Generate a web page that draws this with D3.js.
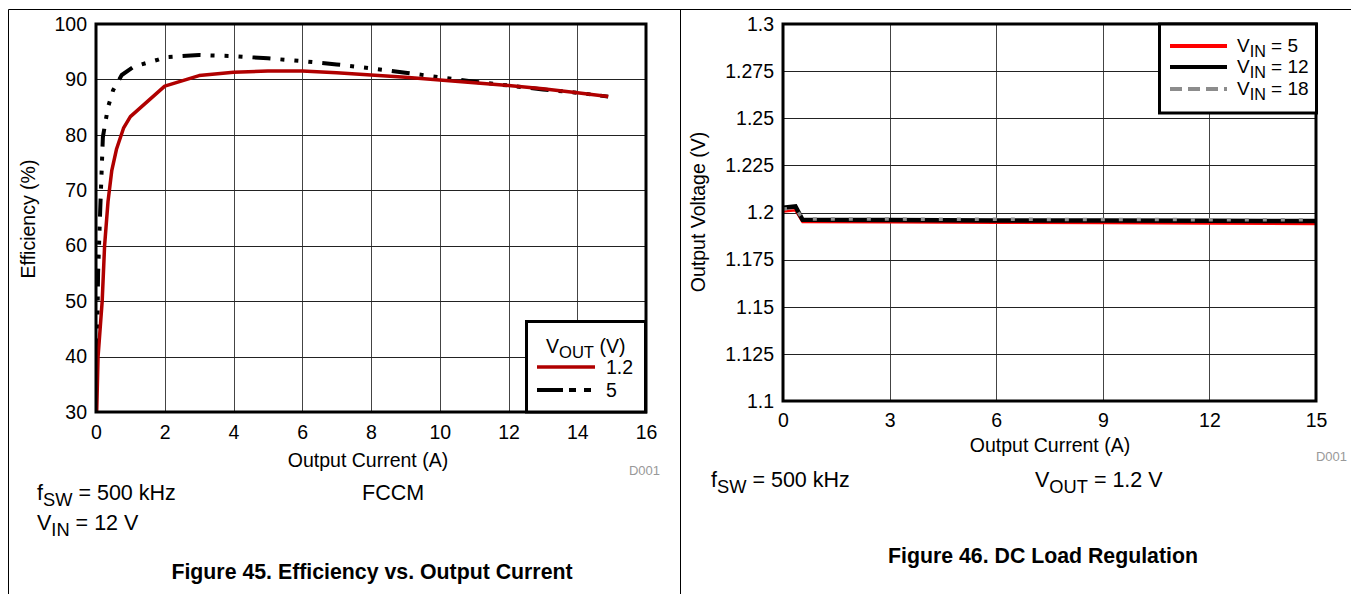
<!DOCTYPE html>
<html><head><meta charset="utf-8">
<script src="https://cdn.jsdelivr.net/npm/d3@7"></script>
<style>
html,body{margin:0;padding:0;background:#fff;}
svg{display:block;font-family:"Liberation Sans",Arial,sans-serif;}
</style></head>
<body>
<svg id="c" width="1351" height="594"></svg>
<script>
// ---------- DATA ----------
// Figure 45: efficiency vs output current
const effXTicks = [0, 2, 4, 6, 8, 10, 12, 14, 16];
const effYTicks = [30, 40, 50, 60, 70, 80, 90, 100];
const eff12Current = [0.02, 0.06, 0.18, 0.25, 0.35, 0.46, 0.6, 0.8, 1.0, 2, 3, 4, 5, 6, 7, 8, 9, 10, 11, 12, 13, 14, 14.9];
const eff12Value   = [30, 40, 50, 60, 68, 73.6, 77.5, 81.2, 83.3, 88.8, 90.7, 91.3, 91.5, 91.5, 91.2, 90.8, 90.4, 89.9, 89.4, 88.9, 88.3, 87.6, 86.9];
const eff5Current = [0.03, 0.06, 0.12, 0.2, 0.35, 0.5, 0.75, 1.1, 1.77, 2, 3, 4, 5, 6, 7, 8, 9, 10, 11, 12, 13, 14, 14.9];
const eff5Value   = [40, 55, 66, 79.6, 85, 88.1, 90.8, 92.3, 93.5, 94.0, 94.4, 94.2, 93.8, 93.3, 92.7, 92.0, 91.2, 90.4, 89.6, 88.9, 88.2, 87.6, 86.9];
const effSeriesNames = ["1.2", "5"];

// Figure 46: DC load regulation
const regXTicks = [0, 3, 6, 9, 12, 15];
const regYTicks = [1.1, 1.125, 1.15, 1.175, 1.2, 1.225, 1.25, 1.275, 1.3];
const regYTickLabels = ["1.1", "1.125", "1.15", "1.175", "1.2", "1.225", "1.25", "1.275", "1.3"];
const regCurrent = [0, 0.35, 0.55, 3, 6, 9, 12, 15];
const regVin5  = [1.2005, 1.2012, 1.1950, 1.1948, 1.1946, 1.1944, 1.1942, 1.1939];
const regVin12 = [1.2025, 1.2032, 1.1961, 1.1960, 1.1958, 1.1957, 1.1956, 1.1955];
const regVin18 = [1.2018, 1.2025, 1.1966, 1.1965, 1.1964, 1.1963, 1.1962, 1.1961];
const regSeriesNames = ["5", "12", "18"];

// ---------- DRAW ----------
const svg = d3.select("#c");
const FS = 19.5;   // chart text
const AFS = 21.5;  // annotation text
const CFS = 21.3;  // captions

// panel borders
svg.append("line").attr("x1", 8.5).attr("x2", 8.5).attr("y1", 9.5).attr("y2", 594).attr("stroke", "#000");
svg.append("line").attr("x1", 8.5).attr("x2", 1351).attr("y1", 9.5).attr("y2", 9.5).attr("stroke", "#000");
svg.append("line").attr("x1", 680.5).attr("x2", 680.5).attr("y1", 9.5).attr("y2", 594).attr("stroke", "#000");

function subText(g, x, y, parts, size, anchor) {
  const t = g.append("text").attr("x", x).attr("y", y).attr("font-size", size).attr("text-anchor", anchor || "start");
  parts.forEach(p => {
    const ts = t.append("tspan").text(p.t);
    if (p.sub) ts.attr("dy", size * 0.27).attr("font-size", size * 0.85);
    else if (p.after) ts.attr("dy", -size * 0.27);
  });
  return t;
}

function drawAxesFrame(g, x, y, xTicks, yTicks, yLabels, xTickY) {
  const [x0, x1] = x.range();
  const [yb, yt] = y.range();
  g.append("g").selectAll("line").data(xTicks.slice(1, -1)).join("line")
    .attr("x1", d => Math.round(x(d)) + 0.5).attr("x2", d => Math.round(x(d)) + 0.5)
    .attr("y1", yt).attr("y2", yb).attr("stroke", "#444").attr("stroke-width", 1);
  g.append("g").selectAll("line").data(yTicks.slice(1, -1)).join("line")
    .attr("y1", d => Math.round(y(d)) + 0.5).attr("y2", d => Math.round(y(d)) + 0.5)
    .attr("x1", x0).attr("x2", x1).attr("stroke", "#222").attr("stroke-width", 1);
  const xa = g.append("g").attr("transform", `translate(0,${yb})`)
    .call(d3.axisBottom(x).tickValues(xTicks).tickSize(0).tickPadding(xTickY));
  const ya = g.append("g").attr("transform", `translate(${x0},0)`)
    .call(d3.axisLeft(y).tickValues(yTicks).tickSize(0).tickPadding(9)
      .tickFormat((d, i) => yLabels ? yLabels[i] : d));
  [xa, ya].forEach(a => {
    a.select(".domain").remove();
    a.selectAll("text").attr("font-size", FS).attr("font-family", "Liberation Sans, Arial, sans-serif").attr("fill", "#000");
  });
}

function drawFrame(g, x, y) {
  const [x0, x1] = x.range();
  const [yb, yt] = y.range();
  g.append("rect").attr("x", x0).attr("y", yt).attr("width", x1 - x0).attr("height", yb - yt)
    .attr("fill", "none").attr("stroke", "#000").attr("stroke-width", 3);
}

// ===== Figure 45 =====
{
  const g = svg.append("g");
  const x = d3.scaleLinear().domain([0, 16]).range([96, 646]);
  const y = d3.scaleLinear().domain([30, 100]).range([412, 24]);
  drawAxesFrame(g, x, y, effXTicks, effYTicks, null, 13);

  const line = d3.line().x(d => x(d[0])).y(d => y(d[1]));
  g.append("clipPath").attr("id", "clipL").append("rect")
    .attr("x", 96).attr("y", 24).attr("width", 550).attr("height", 388);
  g.append("path").datum(eff5Current.map((c, i) => [c, eff5Value[i]]))
    .attr("d", line).attr("fill", "none").attr("stroke", "#000").attr("stroke-width", 4)
    .attr("stroke-dasharray", "18,10,4,10,4,10,4,10").attr("clip-path", "url(#clipL)");
  g.append("path").datum(eff12Current.map((c, i) => [c, eff12Value[i]]))
    .attr("d", line).attr("fill", "none").attr("stroke", "#b00000").attr("stroke-width", 3.5)
    .attr("stroke-linejoin", "round").attr("clip-path", "url(#clipL)");
  drawFrame(g, x, y);

  // legend
  const lg = g.append("g");
  lg.append("rect").attr("x", 526.5).attr("y", 321.5).attr("width", 119).attr("height", 90.5)
    .attr("fill", "#fff").attr("stroke", "#000").attr("stroke-width", 3);
  subText(lg, 546, 353, [{t: "V"}, {t: "OUT", sub: true}, {t: " (V)", after: true}], FS);
  lg.append("line").attr("x1", 537).attr("x2", 595).attr("y1", 367).attr("y2", 367)
    .attr("stroke", "#b00000").attr("stroke-width", 3.5);
  lg.append("text").attr("x", 606).attr("y", 374).attr("font-size", FS).text(effSeriesNames[0]);
  lg.append("line").attr("x1", 537).attr("x2", 595).attr("y1", 390).attr("y2", 390)
    .attr("stroke", "#000").attr("stroke-width", 4).attr("stroke-dasharray", "26,6,7,8,7,20");
  lg.append("text").attr("x", 606).attr("y", 397).attr("font-size", FS).text(effSeriesNames[1]);

  // titles
  g.append("text").attr("x", 368).attr("y", 467).attr("text-anchor", "middle").attr("font-size", FS).text("Output Current (A)");
  g.append("text").attr("transform", "translate(35,219) rotate(-90)").attr("text-anchor", "middle").attr("font-size", FS).text("Efficiency (%)");
  g.append("text").attr("x", 660).attr("y", 475).attr("text-anchor", "end").attr("font-size", 13).attr("fill", "#999").text("D001");
  subText(g, 37, 500, [{t: "f"}, {t: "SW", sub: true}, {t: " = 500 kHz", after: true}], AFS);
  subText(g, 37, 530, [{t: "V"}, {t: "IN", sub: true}, {t: " = 12 V", after: true}], AFS);
  g.append("text").attr("x", 362).attr("y", 500).attr("font-size", AFS).text("FCCM");
  g.append("text").attr("x", 372).attr("y", 579).attr("text-anchor", "middle").attr("font-size", CFS)
    .attr("font-weight", "bold").text("Figure 45. Efficiency vs. Output Current");
}

// ===== Figure 46 =====
{
  const g = svg.append("g");
  const x = d3.scaleLinear().domain([0, 15]).range([783, 1316]);
  const y = d3.scaleLinear().domain([1.1, 1.3]).range([401, 24]);
  drawAxesFrame(g, x, y, regXTicks, regYTicks, regYTickLabels, 12);

  const line = d3.line().x(d => x(d[0])).y(d => y(d[1]));
  const pts = arr => regCurrent.map((c, i) => [c, arr[i]]);
  g.append("path").datum(pts(regVin5)).attr("d", line).attr("fill", "none")
    .attr("stroke", "#ff0000").attr("stroke-width", 2.5);
  g.append("path").datum(pts(regVin12)).attr("d", line).attr("fill", "none")
    .attr("stroke", "#000").attr("stroke-width", 4.5);
  g.append("path").datum(pts(regVin18)).attr("d", line).attr("fill", "none")
    .attr("stroke", "#8c8c8c").attr("stroke-width", 3.5).attr("stroke-dasharray", "4,14");
  drawFrame(g, x, y);

  // legend
  const lg = g.append("g");
  lg.append("rect").attr("x", 1159.5).attr("y", 24).attr("width", 157).attr("height", 89)
    .attr("fill", "#fff").attr("stroke", "#000").attr("stroke-width", 3);
  const lys = [46, 67, 89];
  const cols = ["#ff0000", "#000", "#8c8c8c"];
  const dash = [null, null, "12,6"];
  regSeriesNames.forEach((n, i) => {
    const l = lg.append("line").attr("x1", 1170).attr("x2", 1227).attr("y1", lys[i]).attr("y2", lys[i])
      .attr("stroke", cols[i]).attr("stroke-width", 4);
    if (dash[i]) l.attr("stroke-dasharray", dash[i]);
    subText(lg, 1237, lys[i] + 6, [{t: "V"}, {t: "IN", sub: true}, {t: " = " + n, after: true}], 19);
  });

  g.append("text").attr("x", 1050).attr("y", 452).attr("text-anchor", "middle").attr("font-size", FS).text("Output Current (A)");
  g.append("text").attr("transform", "translate(705,212) rotate(-90)").attr("text-anchor", "middle").attr("font-size", FS).text("Output Voltage (V)");
  g.append("text").attr("x", 1347).attr("y", 461).attr("text-anchor", "end").attr("font-size", 13).attr("fill", "#999").text("D001");
  subText(g, 711, 487, [{t: "f"}, {t: "SW", sub: true}, {t: " = 500 kHz", after: true}], AFS);
  subText(g, 1035, 487, [{t: "V"}, {t: "OUT", sub: true}, {t: " = 1.2 V", after: true}], AFS);
  g.append("text").attr("x", 1043).attr("y", 563).attr("text-anchor", "middle").attr("font-size", CFS)
    .attr("font-weight", "bold").text("Figure 46. DC Load Regulation");
}
</script>
</body></html>
